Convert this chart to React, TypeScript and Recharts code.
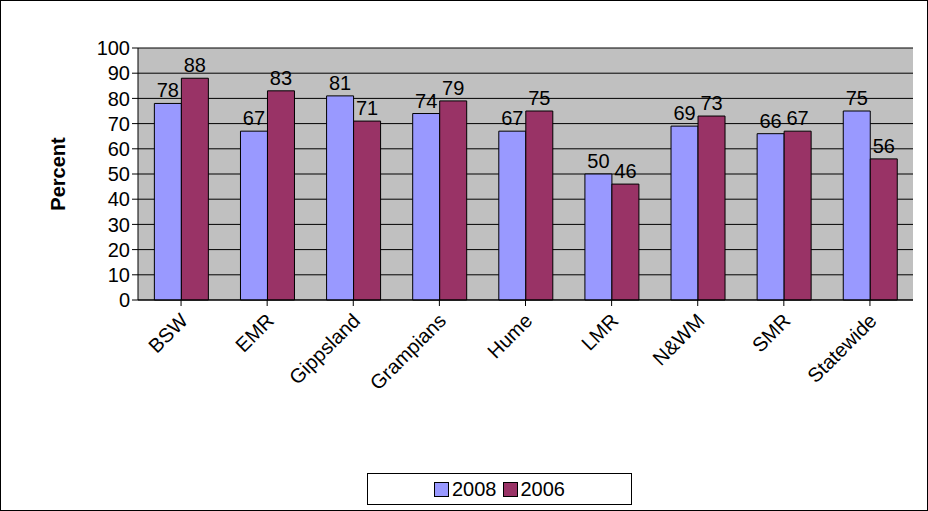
import React from 'react';
import { BarChart, Bar, XAxis, YAxis, CartesianGrid, LabelList } from 'recharts';

const regions = ['BSW', 'EMR', 'Gippsland', 'Grampians', 'Hume', 'LMR', 'N&WM', 'SMR', 'Statewide'];
const values2008 = [78, 67, 81, 74, 67, 50, 69, 66, 75];
const values2006 = [88, 83, 71, 79, 75, 46, 73, 67, 56];
const yTicks = [0, 10, 20, 30, 40, 50, 60, 70, 80, 90, 100];

const data = regions.map((name, i) => ({ name, y2008: values2008[i], y2006: values2006[i] }));

const font = 'Liberation Sans, Arial, sans-serif';

const AngledTick = (props: any) => {
  const { x, y, payload } = props;
  return (
    <text x={x + 8} y={y + 14} transform={`rotate(-45, ${x + 8}, ${y + 14})`} textAnchor="end"
      fontSize={20} fontFamily={font} fill="#000">
      {payload.value}
    </text>
  );
};

const Swatch = ({ color }: { color: string }) => (
  <span style={{ display: 'inline-block', width: 13, height: 13, background: color, border: '1px solid #000', marginRight: 3 }} />
);

export default function App() {
  return (
    <div style={{ position: 'absolute', left: 0, top: 0, width: 926, height: 509, border: '1px solid #000', background: '#fff', fontFamily: font }}>
      <BarChart width={926} height={509} data={data} margin={{ top: 47, right: 14, left: 0, bottom: 0 }}
        barCategoryGap="19%" barGap={0}>
        <CartesianGrid vertical={false} stroke="#000" fill="#C0C0C0" />
        <XAxis dataKey="name" height={210} tick={<AngledTick />} tickLine={{ stroke: '#000' }} axisLine={{ stroke: '#000' }} interval={0} />
        <YAxis width={137} domain={[0, 100]} ticks={yTicks} interval={0} tick={{ fontSize: 20, fill: '#000', fontFamily: font }}
          tickLine={{ stroke: '#000' }} axisLine={{ stroke: '#000' }}
          label={{ value: 'Percent', angle: -90, position: 'insideLeft', offset: 57, style: { fontSize: 20, fontWeight: 'bold', fill: '#000', textAnchor: 'middle' } }} />
        <Bar dataKey="y2008" fill="#9999FF" stroke="#000" strokeWidth={1} isAnimationActive={false}>
          <LabelList dataKey="y2008" position="top" offset={6} style={{ fontSize: 20, fill: '#000', fontFamily: font }} />
        </Bar>
        <Bar dataKey="y2006" fill="#993366" stroke="#000" strokeWidth={1} isAnimationActive={false}>
          <LabelList dataKey="y2006" position="top" offset={6} style={{ fontSize: 20, fill: '#000', fontFamily: font }} />
        </Bar>
      </BarChart>
      <div style={{ position: 'absolute', left: 366, top: 472, width: 263, height: 30, border: '1px solid #000', display: 'flex', alignItems: 'center', justifyContent: 'center', fontSize: 20, gap: 6 }}>
        <span style={{ display: 'flex', alignItems: 'center' }}><Swatch color="#9999FF" />2008</span>
        <span style={{ display: 'flex', alignItems: 'center' }}><Swatch color="#993366" />2006</span>
      </div>
    </div>
  );
}
